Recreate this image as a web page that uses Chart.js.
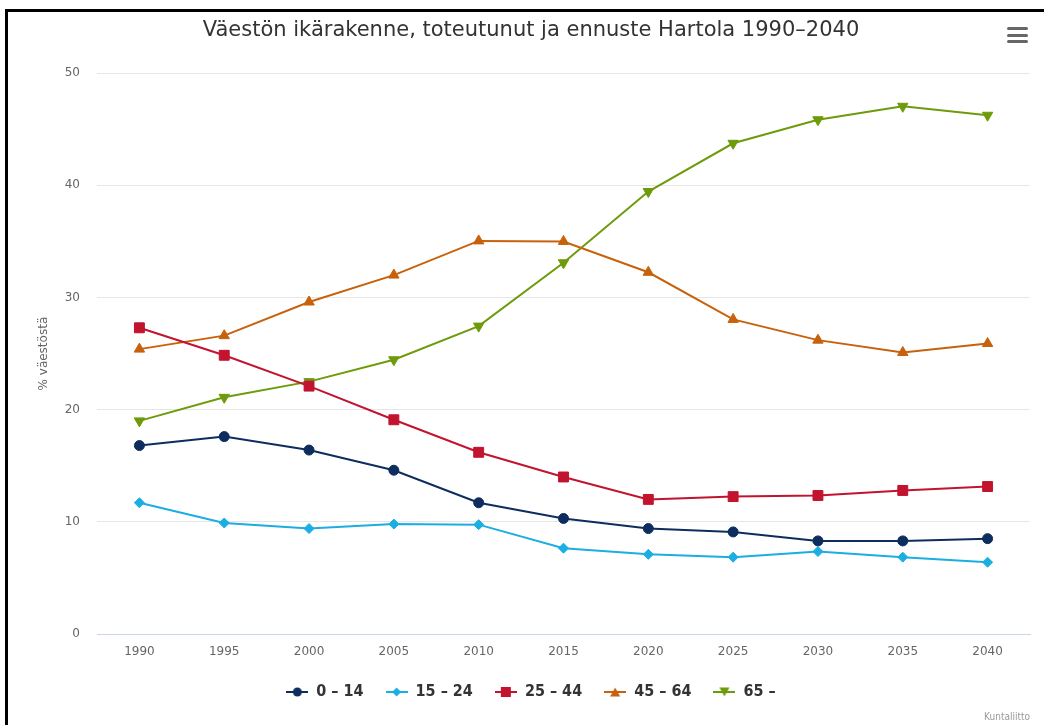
<!DOCTYPE html>
<html>
<head>
<meta charset="utf-8">
<script src="https://cdn.jsdelivr.net/npm/chart.js@4"></script>
<style>
  html, body { margin: 0; padding: 0; background: #fff; overflow: hidden; }
  #frame { position: absolute; left: 5px; top: 9px; width: 1100px; height: 800px; border: 3px solid #000; }
  #wrap { position: absolute; left: 0; top: 0; width: 1044px; height: 725px; }
  #menu { position: absolute; left: 1007px; top: 27px; width: 21px; }
  #menu div { height: 3px; background: #666; border-radius: 2px; margin-bottom: 3.5px; }
  #credits { position: absolute; right: 14px; top: 711px; font: 10px "DejaVu Sans Condensed", "DejaVu Sans", sans-serif; color: #999; }
</style>
</head>
<body>
<div id="frame"></div>
<div id="wrap"><canvas id="ageChart" width="1044" height="725"></canvas></div>
<div id="menu"><div></div><div></div><div></div></div>
<div id="credits">Kuntaliitto</div>
<script>
const years = ["1990", "1995", "2000", "2005", "2010", "2015", "2020", "2025", "2030", "2035", "2040"];
const age0to14 = [16.8, 17.6, 16.4, 14.6, 11.7, 10.3, 9.4, 9.1, 8.3, 8.3, 8.5];
const age15to24 = [11.7, 9.9, 9.4, 9.8, 9.75, 7.65, 7.1, 6.85, 7.35, 6.85, 6.4];
const age25to44 = [27.3, 24.85, 22.1, 19.1, 16.2, 14.0, 12.0, 12.25, 12.35, 12.8, 13.15];
const age45to64 = [25.4, 26.6, 29.6, 32.0, 35.05, 35.0, 32.25, 28.05, 26.2, 25.1, 25.9];
const age65plus = [19.0, 21.1, 22.5, 24.45, 27.45, 33.1, 39.45, 43.75, 45.85, 47.05, 46.25];
const yTicks = [0, 10, 20, 30, 40, 50];

const font = "'DejaVu Sans', sans-serif";

const series = [
  { label: "0 – 14", data: age0to14, color: "#0d2d5e", style: "circle", radius: 5, rot: 0 },
  { label: "15 – 24", data: age15to24, color: "#1aaee3", style: "rectRot", radius: 5, rot: 0 },
  { label: "25 – 44", data: age25to44, color: "#c2132f", style: "rect", radius: 7, rot: 0 },
  { label: "45 – 64", data: age45to64, color: "#c8610b", style: "triangle", radius: 6, rot: 0 },
  { label: "65 –", data: age65plus, color: "#6e9b0b", style: "triangle", radius: 6, rot: 180 },
];

// legend symbol: short line with the marker in the middle
function legendIcon(s) {
  const c = document.createElement("canvas");
  c.width = 22; c.height = 14;
  const g = c.getContext("2d");
  g.strokeStyle = s.color; g.fillStyle = s.color; g.lineWidth = 2;
  g.beginPath(); g.moveTo(0, 7); g.lineTo(22, 7); g.stroke();
  g.beginPath();
  if (s.style === "circle") {
    g.arc(11, 7, 4.5, 0, Math.PI * 2);
  } else if (s.style === "rectRot") {
    g.moveTo(11, 2.5); g.lineTo(15.5, 7); g.lineTo(11, 11.5); g.lineTo(6.5, 7);
  } else if (s.style === "rect") {
    g.rect(6, 2, 10, 10);
  } else if (s.rot === 180) {
    g.moveTo(6, 2.5); g.lineTo(16, 2.5); g.lineTo(11, 11.5);
  } else {
    g.moveTo(11, 2.5); g.lineTo(16, 11.5); g.lineTo(6, 11.5);
  }
  g.closePath(); g.fill();
  return c;
}

new Chart(document.getElementById("ageChart"), {
  type: "line",
  data: {
    labels: years,
    datasets: series.map(s => ({
      label: s.label,
      data: s.data,
      borderColor: s.color,
      backgroundColor: s.color,
      borderWidth: 2,
      pointStyle: s.style,
      pointRadius: s.radius,
      pointRotation: s.rot,
      pointBackgroundColor: s.color,
      pointBorderColor: s.color,
      pointBorderWidth: 1,
      tension: 0,
      fill: false,
    })),
  },
  options: {
    responsive: false,
    animation: false,
    layout: { padding: { left: 32, right: 14, top: 0, bottom: 15 } },
    plugins: {
      title: {
        display: true,
        text: "Väestön ikärakenne, toteutunut ja ennuste Hartola 1990–2040",
        color: "#333333",
        font: { family: font, size: 21, weight: "normal" },
        padding: { top: 18, bottom: 30 },
      },
      legend: {
        position: "bottom",
        labels: {
          usePointStyle: true,
          pointStyleWidth: 22,
          padding: 22,
          color: "#333333",
          font: { family: "'DejaVu Sans Condensed', 'DejaVu Sans', sans-serif", size: 16, weight: "bold" },
          generateLabels: function (chart) {
            return chart.data.datasets.map((ds, i) => ({
              text: ds.label,
              fillStyle: ds.borderColor,
              strokeStyle: ds.borderColor,
              fontColor: "#333333",
              lineWidth: 0,
              hidden: !chart.isDatasetVisible(i),
              datasetIndex: i,
              pointStyle: legendIcon(series[i]),
            }));
          },
        },
      },
      tooltip: { enabled: false },
    },
    scales: {
      x: {
        offset: true,
        grid: { display: false, drawTicks: false },
        border: { display: true, color: "#ccd6eb", width: 1 },
        ticks: { color: "#666666", font: { family: font, size: 12 }, padding: 11, maxRotation: 0 },
        afterFit: function (scale) { scale.height = 28; },
      },
      y: {
        min: 0,
        max: 50,
        afterBuildTicks: function (scale) { scale.ticks = yTicks.map(v => ({ value: v })); },
        grid: { color: "#e6e6e6", lineWidth: 1, drawTicks: false },
        border: { display: false },
        ticks: { color: "#666666", font: { family: font, size: 12 }, padding: 17 },
        title: {
          display: true,
          text: "% väestöstä",
          color: "#666666",
          font: { family: font, size: 12 },
          padding: { top: 5, bottom: 0 },
        },
        afterFit: function (scale) { scale.width = 65; },
      },
    },
  },
});
</script>
</body>
</html>
